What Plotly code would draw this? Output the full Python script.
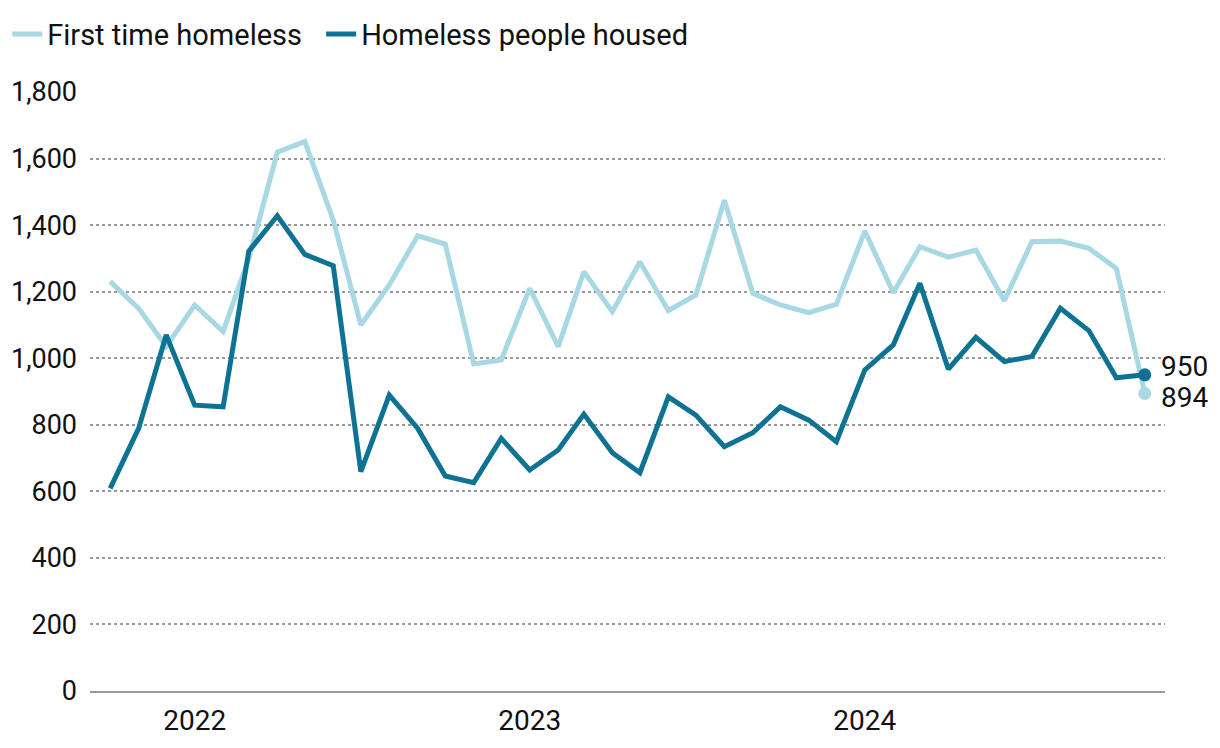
import plotly.graph_objects as go
import pandas as pd

months = pd.date_range("2021-10-01", "2024-11-01", freq="MS")
first_time = [1230, 1150, 1035, 1160, 1080, 1300, 1619, 1651, 1415, 1100,
              1220, 1368, 1343, 983, 995, 1210, 1035, 1260, 1140, 1290,
              1143, 1190, 1475, 1195, 1160, 1137, 1162, 1382, 1197, 1335,
              1304, 1325, 1173, 1350, 1352, 1330, 1270, 894]
housed = [609, 789, 1070, 859, 854, 1322, 1428, 1312, 1278, 659,
          889, 789, 646, 626, 759, 664, 724, 832, 716, 656,
          884, 829, 734, 776, 854, 814, 749, 965, 1040, 1225,
          967, 1063, 990, 1005, 1150, 1083, 941, 950]
y_ticks = [0, 200, 400, 600, 800, 1000, 1200, 1400, 1600, 1800]
x_ticks = ["2022-01-01", "2023-01-01", "2024-01-01"]
x_tick_labels = ["2022", "2023", "2024"]

LIGHT = "#a7d8e3"
DARK = "#0e7393"
FONT = "Roboto"
TXT = "#111111"

fig = go.Figure()
fig.add_trace(go.Scatter(x=months, y=first_time, mode="lines", name="First time homeless",
                         line=dict(color=LIGHT, width=5), cliponaxis=False, legend="legend"))
fig.add_trace(go.Scatter(x=months, y=housed, mode="lines", name="Homeless people housed",
                         line=dict(color=DARK, width=5), cliponaxis=False, legend="legend2"))
fig.add_trace(go.Scatter(x=[months[-1]], y=[first_time[-1]], mode="markers", showlegend=False,
                         marker=dict(color=LIGHT, size=13), cliponaxis=False))
fig.add_trace(go.Scatter(x=[months[-1]], y=[housed[-1]], mode="markers", showlegend=False,
                         marker=dict(color=DARK, size=13), cliponaxis=False))

fig.add_annotation(x=months[-1], y=housed[-1], text=f"{housed[-1]:,}", showarrow=False,
                   xanchor="left", xshift=14, yshift=8, font=dict(size=28, color=TXT, family=FONT))
fig.add_annotation(x=months[-1], y=first_time[-1], text=f"{first_time[-1]:,}", showarrow=False,
                   xanchor="left", xshift=14, yshift=-4, font=dict(size=28, color=TXT, family=FONT))

legend_common = dict(orientation="h", xanchor="left", y=0.965, yref="container",
                     yanchor="middle", font=dict(size=29, family=FONT, color=TXT),
                     itemwidth=30, bgcolor="rgba(0,0,0,0)")

fig.update_layout(
    width=1220, height=748,
    margin=dict(l=82, r=63, t=84, b=65, autoexpand=False),
    paper_bgcolor="white", plot_bgcolor="white",
    font=dict(family=FONT, size=27, color=TXT),
    showlegend=True,
    legend=dict(x=-0.077, **legend_common),
    legend2=dict(x=0.215, **legend_common),
)
fig.update_xaxes(
    range=["2021-09-09", "2024-11-23"],
    tickvals=x_ticks, ticktext=x_tick_labels,
    showgrid=False, showline=True, linecolor="#999999", linewidth=2,
    ticks="", ticklabelstandoff=3, zeroline=False, automargin=False,
    tickfont=dict(size=28),
)
fig.update_yaxes(
    range=[0, 1800], tickvals=y_ticks, tickformat=",",
    showgrid=True, gridcolor="#999999", gridwidth=2, griddash="dot",
    showline=False, zeroline=False, ticks="", ticklabelstandoff=12, automargin=False,
    tickfont=dict(size=27),
)

fig.write_html("out.html")
